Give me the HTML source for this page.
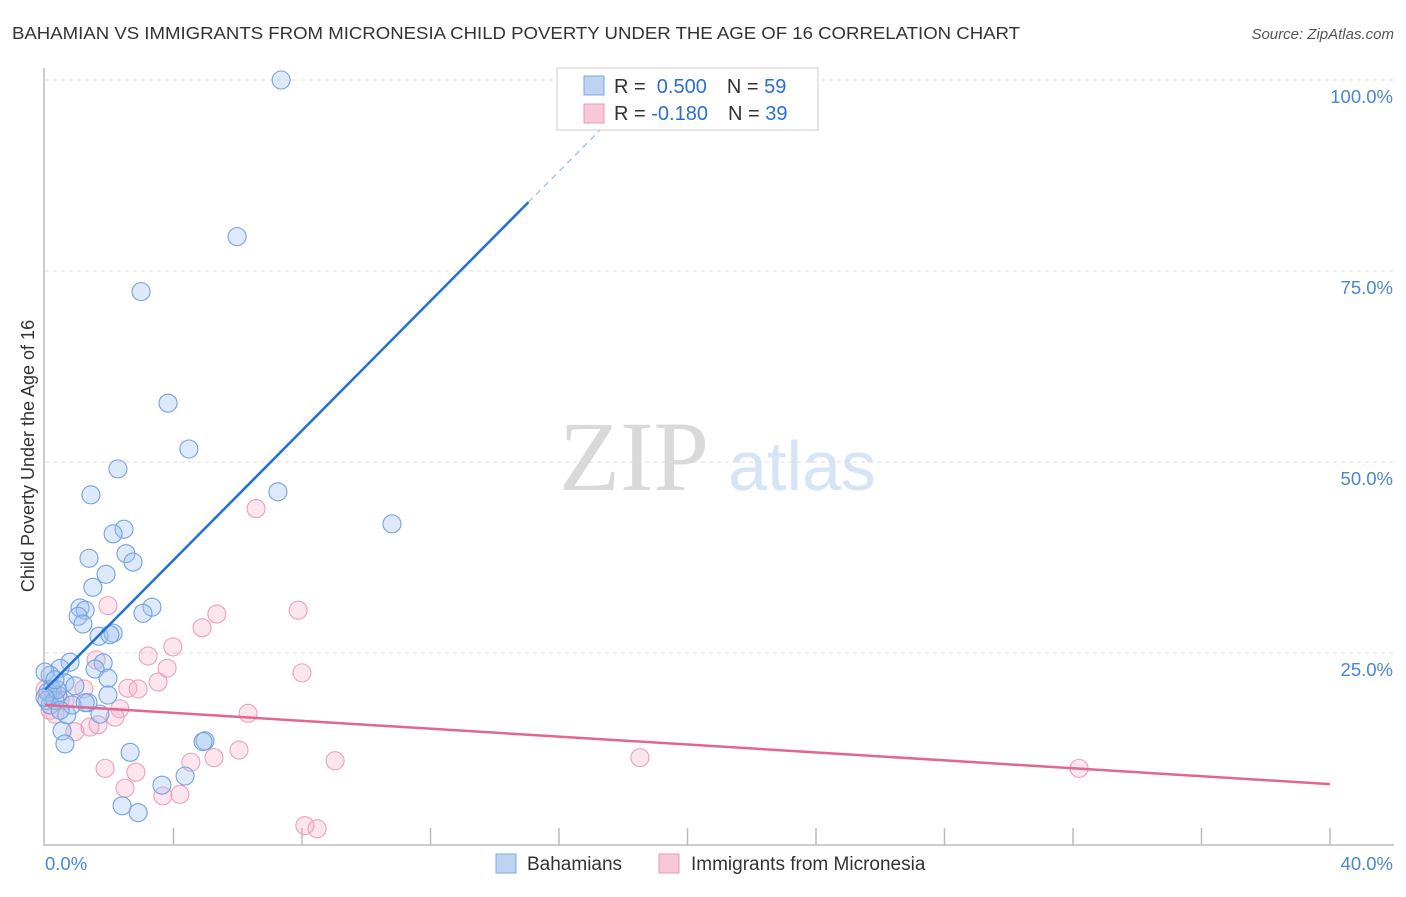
<!DOCTYPE html>
<html><head><meta charset="utf-8"><style>
body{margin:0;background:#fff;font-family:"Liberation Sans",sans-serif}
</style></head><body>
<svg width="1406" height="892" xmlns="http://www.w3.org/2000/svg" font-family="Liberation Sans, sans-serif">
<text x="12" y="39" font-size="17.5" fill="#333" textLength="1008" lengthAdjust="spacingAndGlyphs">BAHAMIAN VS IMMIGRANTS FROM MICRONESIA CHILD POVERTY UNDER THE AGE OF 16 CORRELATION CHART</text>
<text x="1394" y="39" font-size="15" fill="#555" font-style="italic" text-anchor="end">Source: ZipAtlas.com</text>
<g>
<text x="634" y="490" font-size="100" fill="#d9d9d9" style="font-family:'Liberation Serif',serif" text-anchor="middle">ZIP</text>
<text x="802" y="490" font-size="70" fill="#d6e4f5" text-anchor="middle">atlas</text>
</g>
<g id="grid"></g>
<g id="axes"></g>
<g id="marks"></g>
<g>
<rect x="557" y="68" width="261" height="62" fill="#fff" stroke="#ccc"/>
<rect x="584" y="76" width="20" height="19" fill="#bcd4f2" stroke="#7fa8e0"/>
<rect x="584" y="104" width="20" height="19" fill="#f8c8d8" stroke="#e99ab5"/>
<text x="614" y="93" font-size="20" fill="#333">R = <tspan fill="#2a6fd6">&#160;0.500</tspan><tspan dx="20">N = </tspan><tspan fill="#2a6fd6">59</tspan></text>
<text x="614" y="120" font-size="20" fill="#333">R = <tspan fill="#2a6fd6">-0.180</tspan><tspan dx="20">N = </tspan><tspan fill="#2a6fd6">39</tspan></text>
</g>
<g>
<rect x="496" y="854" width="20" height="19" fill="#bcd4f2" stroke="#7fa8e0"/>
<text x="527" y="870" font-size="19" fill="#333">Bahamians</text>
<rect x="659" y="854" width="20" height="19" fill="#f8c8d8" stroke="#e99ab5"/>
<text x="691" y="870" font-size="19" fill="#333">Immigrants from Micronesia</text>
</g>
<text transform="translate(34,456) rotate(-90)" font-size="18" fill="#333" text-anchor="middle">Child Poverty Under the Age of 16</text>
</svg>
<script>
const yTicks=[25,50,75,100];
const yTickLabels=["25.0%","50.0%","75.0%","100.0%"];
const xTicks=[4,8,12,16,20,24,28,32,36,40];
const blueX=[7.35,5.98,2.99,3.83,4.48,2.27,1.43,7.25,10.80,2.46,2.12,1.37,2.52,2.74,1.90,1.49,1.09,1.25,1.03,1.18,3.33,3.05,1.68,2.12,2.02,0.78,0.47,0.16,1.81,1.56,1.96,0.62,0.93,0,0.22,0.40,0.06,0.16,1.34,1.71,0.68,0.09,0.31,0.53,0.62,2.65,4.98,4.92,4.36,3.64,2.40,2.90,0.37,0,0.84,1.96,0.31,1.25,0.47];
const blueY=[100,79.5,72.3,57.7,51.7,49.1,45.7,46.1,41.9,41.2,40.6,37.4,38.0,36.9,35.3,33.6,30.9,30.6,29.8,28.8,31.0,30.2,27.2,27.6,27.4,23.8,23.0,22.1,23.7,22.9,21.7,21.1,20.7,22.5,20.2,19.5,18.8,18.2,18.5,17.0,16.9,19.9,18.8,14.8,13.1,12.0,13.5,13.4,8.9,7.7,5.0,4.1,20.2,19.2,18.2,19.5,21.5,18.5,17.5];
const pinkX=[6.57,1.96,5.35,7.88,4.89,3.98,3.21,3.80,3.52,8.00,1.59,2.58,2.90,1.21,6.32,2.33,2.18,1.65,1.40,0.93,0.31,0.47,0.16,0.16,1.87,2.83,2.49,3.67,4.20,4.54,5.26,6.04,9.03,18.52,32.19,8.09,8.47,0.62,0];
const pinkY=[43.9,31.2,30.1,30.6,28.3,25.8,24.6,23.0,21.2,22.4,24.1,20.4,20.3,20.3,17.1,17.7,16.6,15.6,15.3,14.7,17.0,18.8,19.5,17.5,9.9,9.4,7.3,6.3,6.5,10.7,11.3,12.3,10.9,11.3,9.9,2.4,2.0,18.8,20.2];
const blueTrend=[20.2,4.24];
const pinkTrend=[18.2,-0.259];
const sx=v=>45+v/40*1285, sy=v=>844-v/100*764;
const NS="http://www.w3.org/2000/svg";
function mk(t,a,p){const e=document.createElementNS(NS,t);for(const k in a)e.setAttribute(k,a[k]);p.appendChild(e);return e;}
const grid=document.getElementById('grid'),axes=document.getElementById('axes'),marks=document.getElementById('marks');
yTicks.forEach((v,i)=>{
 const l=mk('line',{x1:45,x2:1394,y1:sy(v),y2:sy(v),stroke:'#ddd','stroke-dasharray':'4,4'},grid);
 
 
 const t=mk('text',{x:1393,y:sy(v)+23,'font-size':18.5,fill:'#4a86d8','text-anchor':'end'},axes);
 t.textContent=yTickLabels[i];
 
 
});
const ax=mk('path',{d:'M44 68 V845 H1394',fill:'none',stroke:'#bbb','stroke-width':1.5},axes);


xTicks.forEach(v=>{const t=mk('line',{x1:sx(v),x2:sx(v),y1:828,y2:845,stroke:'#bbb','stroke-width':1.5},axes);
 
 });
const x0=mk('text',{x:45,y:870,'font-size':18.5,fill:'#4a86d8'},axes);x0.textContent='0.0%';


const x1=mk('text',{x:1393,y:870,'font-size':18.5,fill:'#4a86d8','text-anchor':'end'},axes);x1.textContent='40.0%';


pinkX.forEach((v,i)=>{const c=mk('circle',{cx:sx(v),cy:sy(pinkY[i]),r:9,fill:'rgba(244,170,195,0.3)',stroke:'#eaa0ba','stroke-width':1.1},marks);
 
 });
blueX.forEach((v,i)=>{const c=mk('circle',{cx:sx(v),cy:sy(blueY[i]),r:9,fill:'rgba(160,196,240,0.35)',stroke:'#72a2e0','stroke-width':1.1},marks);
 
 });
const bx=15.05,bx2=17.3;
const bl=mk('line',{x1:sx(0),y1:sy(blueTrend[0]),x2:sx(bx),y2:sy(blueTrend[0]+blueTrend[1]*bx),stroke:'#1f6fd6','stroke-width':2.5},marks);


const bd=mk('line',{x1:sx(bx),y1:sy(blueTrend[0]+blueTrend[1]*bx),x2:sx(bx2),y2:sy(blueTrend[0]+blueTrend[1]*bx2),stroke:'#9bbbe6','stroke-width':1.2,'stroke-dasharray':'6,5'},marks);


const pl=mk('line',{x1:sx(0),y1:sy(pinkTrend[0]),x2:sx(40),y2:sy(pinkTrend[0]+pinkTrend[1]*40),stroke:'#e2668f','stroke-width':2.5},marks);


</script>
</body></html>
